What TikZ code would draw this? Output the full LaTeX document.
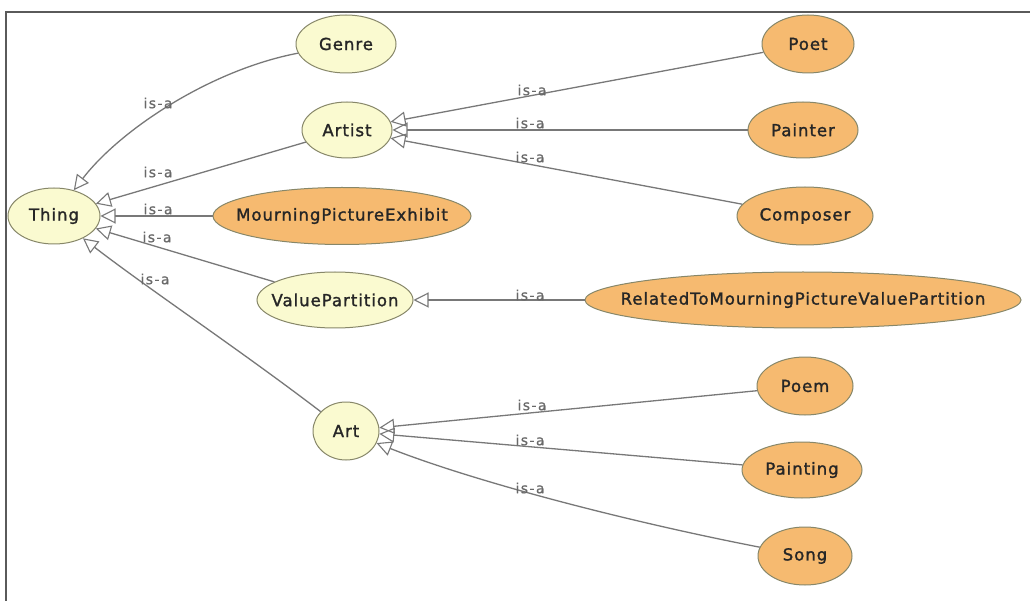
\documentclass[tikz,border=0pt]{standalone}
\usepackage{fontspec}
\setmainfont{DejaVu Sans}
\newfontfamily\nodefont[LetterSpace=6,FakeBold=1.5]{DejaVu Sans}
\newfontfamily\labfont[LetterSpace=10,FakeBold=0.8]{DejaVu Sans}
\usetikzlibrary{shapes.geometric,arrows.meta}
\definecolor{yel}{RGB}{250,250,208}
\definecolor{ora}{RGB}{246,186,112}
\definecolor{rim}{RGB}{135,135,105}
\definecolor{edgec}{RGB}{120,120,120}
\definecolor{labc}{RGB}{105,105,105}
\definecolor{framec}{RGB}{90,90,90}
\newcommand{\nm}[1]{\makebox[0pt]{#1}}
\tikzset{
  cls/.style={ellipse, draw=rim, line width=1pt, inner sep=0pt,
    font=\nodefont\fontsize{16.5}{18}\selectfont, text=black!85},
  yc/.style={cls, fill=yel},
  oc/.style={cls, fill=ora},
  isa/.style={draw=edgec, line width=1.3pt,
    -{Triangle[open, length=15pt, width=15pt, line width=1.1pt]}},
  lbl/.style={font=\labfont\fontsize{14}{15}\selectfont, text=labc, inner sep=0pt}
}
\begin{document}
\begin{tikzpicture}[x=1pt,y=-1pt]
\useasboundingbox (0,0) rectangle (1030,601);
\fill[white] (0,0) rectangle (1030,601);
\draw[framec, line width=2pt] (6,601) -- (6,12) -- (1030,12);

% nodes
\node[yc, minimum width=92pt, minimum height=56pt] (thing) at (54,216) {\nm{Thing}};
\node[yc, minimum width=100pt, minimum height=58pt] (genre) at (346,44) {\nm{Genre}};
\node[yc, minimum width=90pt, minimum height=56pt] (artist) at (347,130) {\nm{Artist}};
\node[oc, minimum width=258pt, minimum height=57pt] (mpe) at (342,216) {\nm{MourningPictureExhibit}};
\node[yc, minimum width=156pt, minimum height=56pt] (vp) at (335,300) {\nm{ValuePartition}};
\node[yc, minimum width=66pt, minimum height=58pt] (art) at (346,431) {\nm{Art}};
\node[oc, minimum width=92pt, minimum height=58pt] (poet) at (808,44) {\nm{Poet}};
\node[oc, minimum width=110pt, minimum height=56pt] (painter) at (803,130) {\nm{Painter}};
\node[oc, minimum width=136pt, minimum height=58pt] (composer) at (805,216) {\nm{Composer}};
\node[oc, minimum width=436pt, minimum height=56pt] (rel) at (803,300) {\nm{RelatedToMourningPictureValuePartition}};
\node[oc, minimum width=96pt, minimum height=58pt] (poem) at (805,386) {\nm{Poem}};
\node[oc, minimum width=120pt, minimum height=56pt] (painting) at (802,470) {\nm{Painting}};
\node[oc, minimum width=94pt, minimum height=58pt] (song) at (805,556) {\nm{Song}};

% edges
\draw[isa] (genre) .. controls (210,70) and (120,130) .. (thing);
\draw[isa] (artist) -- (thing);
\draw[isa] (mpe) -- (thing);
\draw[isa] (vp) -- (thing);
\draw[isa] (art) .. controls (240,350) and (150,290) .. (thing);
\draw[isa] (poet) -- (artist);
\draw[isa] (painter) -- (artist);
\draw[isa] (composer) -- (artist);
\draw[isa] (rel) -- (vp);
\draw[isa] (poem) -- (art);
\draw[isa] (painting) -- (art);
\draw[isa] (song) .. controls (620,520) and (470,480) .. (art);

% labels
\node[lbl] (l1) at (158,103) {is-a};
\node[lbl] (l2) at (158,172) {is-a};
\node[lbl] (l3) at (158,209) {is-a};
\node[lbl] (l4) at (157,237) {is-a};
\node[lbl] (l5) at (155,279) {is-a};
\node[lbl] (l6) at (532,90) {is-a};
\node[lbl] (l7) at (530,123) {is-a};
\node[lbl] (l8) at (530,157) {is-a};
\node[lbl] (l9) at (530,295) {is-a};
\node[lbl] (l10) at (532,405) {is-a};
\node[lbl] (l11) at (530,440) {is-a};
\node[lbl] (l12) at (530,488) {is-a};
\end{tikzpicture}
\end{document}
